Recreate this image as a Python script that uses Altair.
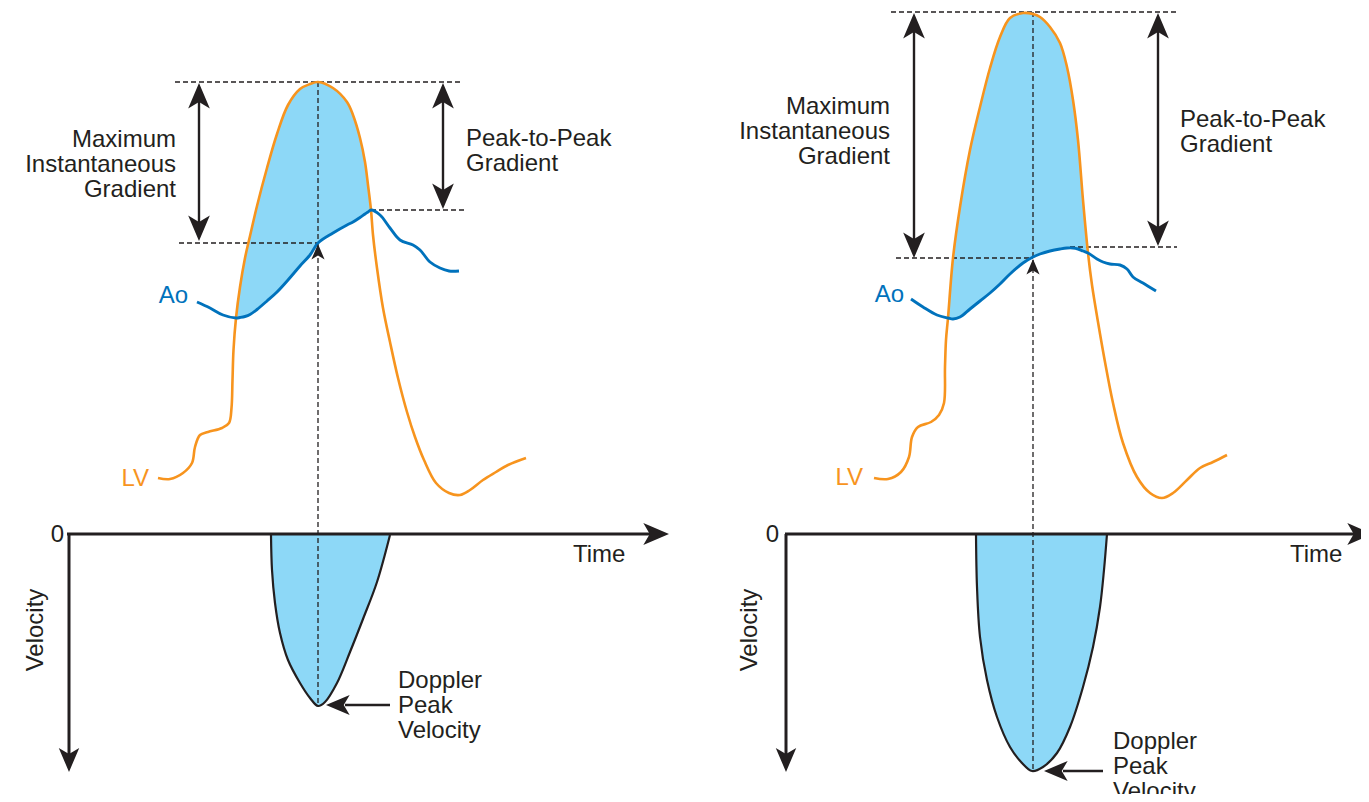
import altair as alt
import pandas as pd

# ---------------- data (page pixel units) ----------------
# Left panel (upper): LV pressure curve
L_LV_X = [158, 170, 183, 192, 195, 200, 208, 222, 229, 231.5, 232.5, 233.5,
          236, 240, 245, 250, 257, 267, 277, 288, 300, 310, 318, 333, 347, 353, 360, 365, 368, 371,
          373, 377, 383, 390, 398, 407, 415, 424, 436, 449, 460, 470, 483, 496, 508, 526]
L_LV_Y = [478, 479, 473, 463, 447, 435, 432, 428, 423, 408, 380, 350,
          318, 287, 258, 236, 206, 168, 134, 105, 89, 84, 82, 88, 102, 115, 138, 162, 185, 210,
          235, 268, 308, 342, 378, 412, 437, 460, 483, 493, 495, 490, 480, 472, 465, 458]
# Left panel: Ao pressure curve
L_AO_X = [197, 210, 223,
          236, 240, 245, 250, 257, 267, 277, 288, 300, 310, 318, 333, 347, 353, 360, 365, 368, 371,
          380, 390, 400, 413, 420, 430, 440, 449, 459]
L_AO_Y = [302, 308, 315,
          318, 317.5, 316.5, 314.5, 309.5, 301, 292, 280, 266, 255, 243, 233, 225, 222, 217.5, 214, 212, 210,
          215, 228, 240, 245, 250, 262, 268, 271, 271]
# Left panel: gradient region (LV above Ao)
L_FILL_X = [236, 240, 245, 250, 257, 267, 277, 288, 300, 310, 318, 333, 347, 353, 360, 365, 368, 371]
L_FILL_TOP = [318, 287, 258, 236, 206, 168, 134, 105, 89, 84, 82, 88, 102, 115, 138, 162, 185, 210]
L_FILL_BOT = [318, 317.5, 316.5, 314.5, 309.5, 301, 292, 280, 266, 255, 243, 233, 225, 222, 217.5, 214, 212, 210]
# Left panel: Doppler velocity envelope
L_DOP_X = [271, 272, 275, 280, 288, 300, 310, 318, 325, 337, 350, 363, 377, 390]
L_DOP_Y = [535, 570, 603, 633, 660, 683, 698, 706, 702, 683, 652, 619, 582, 535]

# Right panel (upper): LV pressure curve
R_LV_X = [874, 888, 901, 909, 912, 918, 931, 939, 944, 945, 946,
          948, 953, 960, 970, 980, 990, 1000, 1010, 1023, 1033, 1040, 1050,
          1060, 1067, 1073, 1078, 1083, 1088,
          1092, 1098, 1105, 1113, 1123, 1137, 1150, 1162, 1173, 1187, 1200, 1213, 1227]
R_LV_Y = [478, 479, 472, 457, 437, 427, 422, 415, 403, 367, 340,
          318, 258, 207, 150, 107, 68, 37, 18, 13, 14, 17, 27,
          43, 67, 100, 140, 200, 253,
          285, 322, 362, 403, 443, 477, 493, 498, 493, 480, 468, 462, 455]
# Right panel: Ao pressure curve
R_AO_X = [911, 923, 937,
          948, 953, 960, 970, 980, 990, 1000, 1010, 1023, 1033, 1040, 1050,
          1060, 1067, 1073, 1078, 1083, 1088,
          1097, 1103, 1110, 1120, 1127, 1133, 1143, 1156]
R_AO_Y = [299, 307, 315,
          318, 319, 317, 309, 301, 293, 284, 274, 263, 257, 254, 251,
          249, 248, 248, 249, 251, 253,
          259, 262, 264, 265, 269, 277, 283, 291]
R_FILL_X = [948, 953, 960, 970, 980, 990, 1000, 1010, 1023, 1033, 1040, 1050,
            1060, 1067, 1073, 1078, 1083, 1088]
R_FILL_TOP = [318, 258, 207, 150, 107, 68, 37, 18, 13, 14, 17, 27,
              43, 67, 100, 140, 200, 253]
R_FILL_BOT = [318, 319, 317, 309, 301, 293, 284, 274, 263, 257, 254, 251,
              249, 248, 248, 249, 251, 253]
R_DOP_X = [976, 977, 980, 987, 997, 1010, 1022, 1032, 1043, 1057, 1070, 1083, 1093, 1100, 1104, 1107]
R_DOP_Y = [534, 587, 637, 680, 717, 747, 763, 771, 767, 753, 727, 687, 647, 607, 570, 534]

AXIS_Y = 534

# Dashed guide lines: x, y, x2, y2
DASH_X = [175, 179, 371, 318, 891, 896, 1070, 1033]
DASH_Y = [82, 243, 210, 82, 12, 258, 247, 12]
DASH_X2 = [463, 318, 467, 318, 1178, 1033, 1177, 1033]
DASH_Y2 = [82, 243, 210, 706, 12, 258, 247, 771]

# Solid lines (arrow shafts and axes): x, y, x2, y2
SHAFT_X = [199, 443, 345, 914, 1158, 1063]
SHAFT_Y = [92, 92, 705, 22, 22, 771]
SHAFT_X2 = [199, 443, 390, 914, 1158, 1103]
SHAFT_Y2 = [230, 198, 705, 247, 235, 771]
AXIS_X = [67, 69, 785, 786]
AXIS_Y1 = [534, 534, 534, 534]
AXIS_X2 = [656, 69, 1362, 786]
AXIS_Y2 = [534, 758, 534, 758]

# Arrow heads (tip positions) by direction
BIG_UP_X, BIG_UP_Y = [199, 443, 914, 1158], [83, 83, 13, 13]
BIG_DOWN_X, BIG_DOWN_Y = [199, 443, 914, 1158], [241, 209, 258, 246]
SMALL_UP_X, SMALL_UP_Y = [318, 1033], [244, 259]
PTR_LEFT_X, PTR_LEFT_Y = [326, 1044], [705, 771]
AX_RIGHT_X, AX_RIGHT_Y = [669, 1373], [534, 534]
AX_DOWN_X, AX_DOWN_Y = [69, 786], [772, 772]

# Text labels
TXT_R = ["Maximum", "Instantaneous", "Gradient", "Maximum", "Instantaneous", "Gradient", "0", "0"]
TXT_R_X = [176, 176, 176, 890, 890, 890, 64, 779]
TXT_R_Y = [147, 172, 197, 114, 139, 164, 542, 542]
TXT_L = ["Peak-to-Peak", "Gradient", "Peak-to-Peak", "Gradient", "Time", "Time",
         "Doppler", "Peak", "Velocity", "Doppler", "Peak", "Velocity"]
TXT_L_X = [466, 466, 1180, 1180, 573, 1290, 398, 398, 398, 1113, 1113, 1113]
TXT_L_Y = [146, 171, 127, 152, 562, 562, 688, 713, 738, 749, 774, 799]
AO_TXT_X, AO_TXT_Y = [188, 904], [303, 302]
LV_TXT_X, LV_TXT_Y = [149, 863], [486, 485]
VEL_TXT_X, VEL_TXT_Y = [43, 757], [630, 630]

# ---------------- styling ----------------
INK = "#231F20"
ORANGE = "#F7941E"
BLUE = "#0072BC"
FILL = "#8DD8F7"
FONT = "Liberation Sans"
FS = 24
ARROW = "M0,0 L0.85,2 L0,1.5 L-0.85,2 Z"
CURVE = "catmull-rom"

W, H = 1353, 786
XS = alt.Scale(domain=[8, 8 + W], nice=False, zero=False)
YS = alt.Scale(domain=[8, 8 + H], nice=False, zero=False, reverse=True)


def X(f="x"):
    return alt.X(f"{f}:Q", scale=XS, axis=None)


def Y(f="y"):
    return alt.Y(f"{f}:Q", scale=YS, axis=None)


def pts(xs, ys):
    return pd.DataFrame({"x": xs, "y": ys})


layers = []

# gradient fills
for fx, ft, fb in [(L_FILL_X, L_FILL_TOP, L_FILL_BOT), (R_FILL_X, R_FILL_TOP, R_FILL_BOT)]:
    df = pd.DataFrame({"x": fx, "y": ft, "y2": fb})
    layers.append(alt.Chart(df).mark_area(color=FILL, interpolate=CURVE, opacity=1)
                  .encode(x=X(), y=Y(), y2="y2:Q"))

# doppler envelopes (fill)
for dx, dy in [(L_DOP_X, L_DOP_Y), (R_DOP_X, R_DOP_Y)]:
    df = pts(dx, dy)
    df["base"] = AXIS_Y
    layers.append(alt.Chart(df).mark_area(color=FILL, interpolate=CURVE, opacity=1)
                  .encode(x=X(), y=Y(), y2="base:Q"))

# dashed guides
dash_df = pd.DataFrame({"x": DASH_X, "y": DASH_Y, "x2": DASH_X2, "y2": DASH_Y2})
layers.append(alt.Chart(dash_df).mark_rule(color=INK, strokeWidth=1.3, strokeDash=[5, 3])
              .encode(x=X(), y=Y(), x2="x2:Q", y2="y2:Q"))

# pressure curves
for xs, ys in [(L_LV_X, L_LV_Y), (R_LV_X, R_LV_Y)]:
    layers.append(alt.Chart(pts(xs, ys)).mark_line(color=ORANGE, strokeWidth=2.6, interpolate=CURVE)
                  .encode(x=X(), y=Y()))
for xs, ys in [(L_AO_X, L_AO_Y), (R_AO_X, R_AO_Y)]:
    layers.append(alt.Chart(pts(xs, ys)).mark_line(color=BLUE, strokeWidth=2.9, interpolate=CURVE)
                  .encode(x=X(), y=Y()))

# doppler outlines
for dx, dy in [(L_DOP_X, L_DOP_Y), (R_DOP_X, R_DOP_Y)]:
    layers.append(alt.Chart(pts(dx, dy)).mark_line(color=INK, strokeWidth=2.2, interpolate=CURVE)
                  .encode(x=X(), y=Y()))

# axes
axis_df = pd.DataFrame({"x": AXIS_X, "y": AXIS_Y1, "x2": AXIS_X2, "y2": AXIS_Y2})
layers.append(alt.Chart(axis_df).mark_rule(color=INK, strokeWidth=3)
              .encode(x=X(), y=Y(), x2="x2:Q", y2="y2:Q"))

# arrow shafts
shaft_df = pd.DataFrame({"x": SHAFT_X, "y": SHAFT_Y, "x2": SHAFT_X2, "y2": SHAFT_Y2})
layers.append(alt.Chart(shaft_df).mark_rule(color=INK, strokeWidth=2.4)
              .encode(x=X(), y=Y(), x2="x2:Q", y2="y2:Q"))

# arrow heads
for xs, ys, ang, size in [
    (BIG_UP_X, BIG_UP_Y, 0, 650),
    (BIG_DOWN_X, BIG_DOWN_Y, 180, 650),
    (SMALL_UP_X, SMALL_UP_Y, 0, 240),
    (PTR_LEFT_X, PTR_LEFT_Y, 270, 560),
    (AX_RIGHT_X, AX_RIGHT_Y, 90, 660),
    (AX_DOWN_X, AX_DOWN_Y, 180, 580),
]:
    layers.append(alt.Chart(pts(xs, ys)).mark_point(shape=ARROW, filled=True, size=size, angle=ang,
                                                    color=INK, opacity=1, strokeWidth=0)
                  .encode(x=X(), y=Y()))


def text_layer(texts, xs, ys, align, color=INK, angle=0):
    df = pd.DataFrame({"x": xs, "y": ys, "t": texts})
    return (alt.Chart(df).mark_text(font=FONT, fontSize=FS, align=align, baseline="alphabetic",
                                    color=color, angle=angle)
            .encode(x=X(), y=Y(), text="t:N"))


layers.append(text_layer(TXT_R, TXT_R_X, TXT_R_Y, "right"))
layers.append(text_layer(TXT_L, TXT_L_X, TXT_L_Y, "left"))
layers.append(text_layer(["Ao", "Ao"], AO_TXT_X, AO_TXT_Y, "right", BLUE))
layers.append(text_layer(["LV", "LV"], LV_TXT_X, LV_TXT_Y, "right", ORANGE))
layers.append(text_layer(["Velocity", "Velocity"], VEL_TXT_X, VEL_TXT_Y, "center", INK, 270))

chart = (alt.layer(*layers)
         .properties(width=W, height=H, padding=0, autosize=alt.AutoSizeParams(type="none"))
         .configure_view(stroke=None))

chart.save("out.html", embed_options={"renderer": "svg", "actions": False})
